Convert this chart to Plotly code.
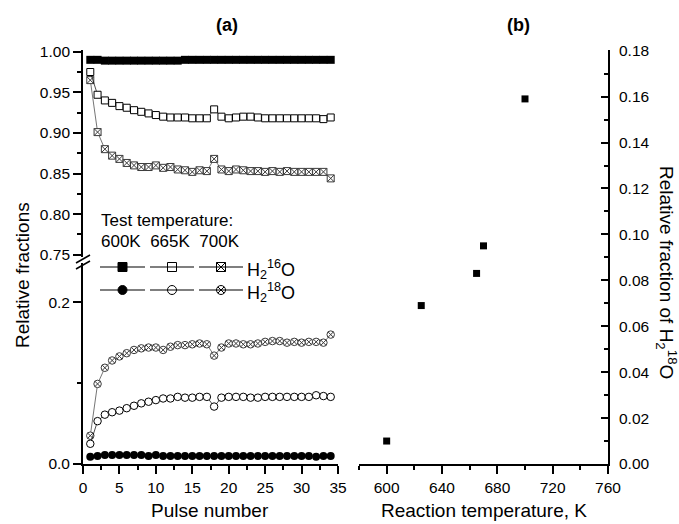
import plotly.graph_objects as go

# ---------------- data ----------------
pulses = list(range(1, 35))

h16_600 = [0.990, 0.990, 0.989, 0.989, 0.989, 0.989, 0.989, 0.989, 0.989, 0.989, 0.989, 0.989,
           0.989, 0.990, 0.990, 0.990, 0.990, 0.990, 0.990, 0.990, 0.990, 0.990, 0.990, 0.990,
           0.990, 0.990, 0.990, 0.990, 0.990, 0.990, 0.990, 0.990, 0.990, 0.990]
h18_600 = [0.009, 0.010, 0.011, 0.011, 0.011, 0.011, 0.011, 0.011, 0.010, 0.011, 0.010, 0.010,
           0.010, 0.010, 0.010, 0.010, 0.010, 0.010, 0.010, 0.010, 0.010, 0.010, 0.010, 0.010,
           0.010, 0.010, 0.010, 0.010, 0.010, 0.010, 0.010, 0.009, 0.010, 0.010]
h16_665 = [0.975, 0.947, 0.940, 0.937, 0.933, 0.931, 0.928, 0.926, 0.924, 0.922, 0.920, 0.919,
           0.919, 0.919, 0.918, 0.918, 0.918, 0.929, 0.920, 0.918, 0.919, 0.920, 0.920, 0.919,
           0.918, 0.918, 0.918, 0.918, 0.918, 0.918, 0.918, 0.918, 0.917, 0.919]
h18_665 = [0.025, 0.053, 0.061, 0.064, 0.066, 0.069, 0.072, 0.075, 0.077, 0.079, 0.081, 0.081,
           0.083, 0.082, 0.082, 0.083, 0.083, 0.071, 0.082, 0.083, 0.083, 0.083, 0.082, 0.082,
           0.083, 0.083, 0.083, 0.083, 0.083, 0.083, 0.083, 0.085, 0.084, 0.083]
h16_700 = [0.965, 0.901, 0.880, 0.872, 0.868, 0.863, 0.860, 0.858, 0.858, 0.860, 0.857, 0.858,
           0.855, 0.854, 0.852, 0.854, 0.853, 0.868, 0.855, 0.853, 0.855, 0.854, 0.853, 0.853,
           0.852, 0.853, 0.852, 0.853, 0.852, 0.852, 0.852, 0.852, 0.852, 0.844]
h18_700 = [0.035, 0.099, 0.119, 0.128, 0.133, 0.137, 0.141, 0.143, 0.144, 0.144, 0.141, 0.145,
           0.147, 0.147, 0.148, 0.149, 0.148, 0.134, 0.144, 0.149, 0.149, 0.148, 0.148, 0.149,
           0.151, 0.152, 0.152, 0.150, 0.151, 0.150, 0.151, 0.151, 0.150, 0.160]

temps = [600, 625, 665, 670, 700]
frac18 = [0.010, 0.069, 0.083, 0.095, 0.159]

legend_temps = ["600K", "665K", "700K"]

# ---------------- geometry helpers ----------------
W, H = 679, 524
L, R, T, B = 83, 71, 50, 60
PW, PH = W - L - R, H - T - B


def fx(px):
    return (px - L) / PW


def fy(py):
    return (H - B - py) / PH


FONT = "Liberation Sans, Arial, sans-serif"
INK = "black"
GREY = "#3a3a3a"

fig = go.Figure()

# ---------------- panel (a) upper: H2 16O ----------------
fig.add_trace(go.Scatter(x=pulses, y=h16_700, xaxis="x", yaxis="y2", mode="lines+markers",
                         line=dict(color=GREY, width=0.7),
                         marker=dict(symbol="square-x", size=7, color="white",
                                     line=dict(color=GREY, width=1)), showlegend=False))
fig.add_trace(go.Scatter(x=pulses, y=h16_665, xaxis="x", yaxis="y2", mode="lines+markers",
                         line=dict(color=INK, width=0.7),
                         marker=dict(symbol="square", size=7, color="white",
                                     line=dict(color=INK, width=1)), showlegend=False))
fig.add_trace(go.Scatter(x=pulses, y=h16_600, xaxis="x", yaxis="y2", mode="lines+markers",
                         line=dict(color=INK, width=0.7),
                         marker=dict(symbol="square", size=8, color=INK, line=dict(width=0)),
                         showlegend=False))

# ---------------- panel (a) lower: H2 18O ----------------
fig.add_trace(go.Scatter(x=pulses, y=h18_700, xaxis="x", yaxis="y", mode="lines+markers",
                         line=dict(color=GREY, width=0.7),
                         marker=dict(symbol="circle-x", size=7.5, color="white",
                                     line=dict(color=GREY, width=1)), showlegend=False))
fig.add_trace(go.Scatter(x=pulses, y=h18_665, xaxis="x", yaxis="y", mode="lines+markers",
                         line=dict(color=INK, width=0.7),
                         marker=dict(symbol="circle", size=7.5, color="white",
                                     line=dict(color=INK, width=1)), showlegend=False))
fig.add_trace(go.Scatter(x=pulses, y=h18_600, xaxis="x", yaxis="y", mode="lines+markers",
                         line=dict(color=INK, width=0.7),
                         marker=dict(symbol="circle", size=8, color=INK, line=dict(width=0)),
                         showlegend=False))

# ---------------- panel (b) ----------------
fig.add_trace(go.Scatter(x=temps, y=frac18, xaxis="x2", yaxis="y3", mode="markers",
                         marker=dict(symbol="square", size=7, color=INK, line=dict(width=0)),
                         showlegend=False))

# ---------------- custom legend (overlay axes in pixel units) ----------------
leg_rows_y = [267, 290]
leg_seg = [(100, 145), (150, 194), (199, 243)]
sym_rows = [["square", "square", "square-x"], ["circle", "circle", "circle-x"]]
fill_cols = [INK, "white", "white"]
shapes = []
for r, yy in enumerate(leg_rows_y):
    for (x0, x1) in leg_seg:
        shapes.append(dict(type="line", xref="paper", yref="paper",
                           x0=fx(x0), x1=fx(x1), y0=fy(yy), y1=fy(yy),
                           line=dict(color=INK, width=1.2)))
    fig.add_trace(go.Scatter(
        x=[(a + b) / 2 for a, b in leg_seg], y=[yy] * 3, xaxis="x4", yaxis="y4",
        mode="markers", showlegend=False, hoverinfo="skip",
        marker=dict(symbol=sym_rows[r], size=9, color=fill_cols,
                    line=dict(color=INK, width=1))))

# axis break marks
for dy in (0, 6):
    shapes.append(dict(type="line", xref="paper", yref="paper",
                       x0=fx(76), x1=fx(90), y0=fy(263 + dy), y1=fy(255 + dy),
                       line=dict(color=INK, width=1.5)))

tickfont = dict(family=FONT, size=15.5, color=INK)
axcommon = dict(showline=True, linecolor=INK, linewidth=1.8, showgrid=False, zeroline=False,
                tickfont=tickfont, tickcolor=INK, tickwidth=1.5, automargin=False)

fig.update_layout(
    width=W, height=H, template="none",
    margin=dict(l=L, r=R, t=T, b=B, pad=0),
    paper_bgcolor="white", plot_bgcolor="rgba(0,0,0,0)",
    font=dict(family=FONT, color=INK),
    showlegend=False,
    xaxis=dict(domain=[0, fx(338)], range=[0, 35], anchor="y", dtick=5, tick0=0,
               ticks="outside", ticklen=8,
               minor=dict(ticks="outside", dtick=2.5, ticklen=4, tickwidth=1.5, tickcolor=INK),
               **axcommon),
    yaxis=dict(domain=[0, fy(263)], range=[0, 0.2485], anchor="x", dtick=0.2, tick0=0,
               tickformat=".1f", ticks="outside", ticklen=8,
               minor=dict(ticks="outside", dtick=0.1, ticklen=4, tickwidth=1.5, tickcolor=INK),
               **axcommon),
    yaxis2=dict(domain=[fy(257), 1], range=[0.7472, 1.0021], anchor="x", dtick=0.05, tick0=0,
                tickformat=".2f", ticks="outside", ticklen=8,
                minor=dict(ticks="outside", dtick=0.025, ticklen=4, tickwidth=1.5, tickcolor=INK),
                **axcommon),
    xaxis2=dict(domain=[fx(359), 1], range=[580, 760], anchor="y3", dtick=40, tick0=600,
                ticks="outside", ticklen=8,
                minor=dict(ticks="outside", dtick=20, ticklen=4, tickwidth=1.5, tickcolor=INK),
                **axcommon),
    yaxis3=dict(domain=[0, 1], range=[0, 0.1803], anchor="x2", side="right", dtick=0.02, tick0=0,
                tickformat=".2f", ticks="inside", ticklen=7, ticklabelstandoff=6,
                minor=dict(ticks="inside", dtick=0.01, ticklen=4, tickwidth=1.5, tickcolor=INK),
                **axcommon),
    xaxis4=dict(domain=[0, 1], range=[L, W - R], anchor="y4", visible=False, fixedrange=True),
    yaxis4=dict(domain=[0, 1], range=[H - B, T], anchor="x4", visible=False, fixedrange=True),
    shapes=shapes,
)


def note(text, x, y, size, angle=0, xanchor="center"):
    return dict(text=text, x=fx(x), y=fy(y), xref="paper", yref="paper",
                xanchor=xanchor, yanchor="middle", textangle=angle, showarrow=False,
                font=dict(size=size, family=FONT, color=INK))


ann = [
    note("<b>(a)</b>", 227, 25, 18),
    note("<b>(b)</b>", 518, 25, 18),
    note("Pulse number", 210, 510, 19),
    note("Reaction temperature, K", 484, 510, 19),
    note("Relative fractions", 22, 275, 19, angle=-90),
    note("Relative fraction of H<sub>2</sub><sup>18</sup>O", 667, 272, 19, angle=90),
    note("Test temperature:", 99, 220, 17, xanchor="left"),
    note("  ".join(legend_temps), 99, 241, 17, xanchor="left"),
    note("H<sub>2</sub><sup>16</sup>O", 245, 269, 18, xanchor="left"),
    note("H<sub>2</sub><sup>18</sup>O", 245, 292, 18, xanchor="left"),
]
fig.update_layout(annotations=ann)

fig.write_html("out.html", config={"displayModeBar": False},
               post_script="document.body.style.margin='0';document.body.style.padding='0';")
